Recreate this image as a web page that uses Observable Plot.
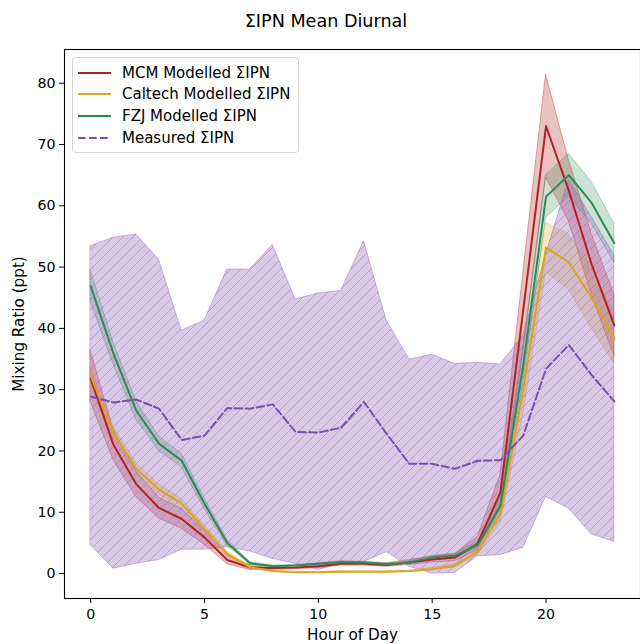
<!DOCTYPE html>
<html>
<head>
<meta charset="utf-8">
<script src="https://cdn.jsdelivr.net/npm/d3@7"></script>
<script src="https://cdn.jsdelivr.net/npm/@observablehq/plot@0.6"></script>
<style>
  body { margin: 0; background: #fff; font-family: "DejaVu Sans", sans-serif; }
  #wrap { position: relative; width: 640px; height: 644px; overflow: hidden; }
  #title { height: 40px; line-height: 42px; text-align: center; font-size: 17.6px; color: #000; padding-left: 12px; }
  #legend { position: absolute; left: 72px; top: 57px; width: 225px; height: 94px; border: 1px solid #d5d5d5; border-radius: 4px; background: rgba(255,255,255,0.85); font-size: 15px; color: #000; }
  .row { position: absolute; left: 0; height: 20px; display: flex; align-items: center; white-space: nowrap; }
  .row svg { margin-left: 5px; margin-right: 11px; }
  #chart svg text { font-size: 14.2px; font-family: "DejaVu Sans", sans-serif; }
  #chart svg g[aria-label$="axis label"] text { font-size: 15.2px; }
</style>
</head>
<body>
<div id="wrap">
  <div id="title">ΣIPN Mean Diurnal</div>
  <div id="chart"></div>
  <div id="legend"></div>
</div>
<script>
// ---- data ----
const hours = [0,1,2,3,4,5,6,7,8,9,10,11,12,13,14,15,16,17,18,19,20,21,22,23];

const mcmMean = [31.8,21.0,14.6,10.7,8.9,5.9,2.2,1.0,0.9,1.0,1.2,1.6,1.6,1.4,1.8,2.3,2.6,4.9,13.3,43.0,73.0,62.5,50.5,40.5];
const mcmLo   = [28.0,18.5,12.5,9.0,7.3,4.7,1.5,0.6,0.6,0.7,0.9,1.3,1.3,1.1,1.4,1.8,2.0,3.8,10.5,36.0,64.6,57.5,45.5,35.5];
const mcmHi   = [36.4,23.5,16.7,12.4,10.5,7.1,2.9,1.4,1.2,1.3,1.5,1.9,1.9,1.7,2.2,2.8,3.2,6.0,16.1,49.0,81.4,67.5,55.5,45.5];

const caltechMean = [32.3,23.0,17.1,13.7,11.4,7.3,3.2,1.0,0.4,0.2,0.2,0.3,0.3,0.3,0.4,0.7,1.3,3.6,9.7,30.0,53.2,50.8,45.0,38.3];
const caltechLo   = [31.1,22.0,16.2,12.9,10.6,6.7,2.8,0.8,0.3,0.1,0.1,0.2,0.2,0.2,0.3,0.5,1.0,3.0,8.2,26.0,49.2,46.3,40.0,34.3];
const caltechHi   = [33.5,24.0,18.0,14.5,12.2,7.9,3.6,1.2,0.5,0.3,0.3,0.4,0.4,0.4,0.5,0.9,1.6,4.2,11.2,34.0,57.2,55.3,50.0,42.3];

const fzjMean = [46.9,35.9,26.6,21.2,18.4,11.4,5.0,1.7,1.2,1.3,1.6,1.9,1.8,1.5,1.8,2.6,2.9,4.7,11.1,34.0,61.5,65.0,60.5,53.9];
const fzjLo   = [44.3,34.1,25.1,20.0,17.3,10.5,4.5,1.5,1.1,1.2,1.5,1.8,1.7,1.4,1.6,2.3,2.6,4.2,9.9,31.0,58.0,61.5,57.1,50.7];
const fzjHi   = [49.5,37.7,28.1,22.4,19.5,12.3,5.5,1.9,1.3,1.4,1.7,2.0,1.9,1.6,2.0,2.9,3.2,5.2,12.3,37.0,65.0,68.5,63.9,57.1];

const measMean = [28.9,27.9,28.4,26.9,21.8,22.5,27.0,26.9,27.6,23.1,23.0,23.8,28.0,22.8,17.9,17.9,17.1,18.4,18.5,22.5,33.4,37.3,32.4,28.1];
const measLo   = [4.6,0.8,1.6,2.2,3.9,3.9,4.3,3.6,2.4,1.6,0.6,1.5,1.9,3.5,1.1,0.0,0.1,2.8,3.0,4.2,12.5,10.6,6.4,5.2];
const measHi   = [53.4,54.8,55.3,51.2,39.6,41.3,49.6,49.6,53.6,44.7,45.7,46.1,54.2,41.3,34.9,35.7,34.2,34.4,34.1,38.8,52.0,64.2,58.2,51.9];

const seriesNames = ["MCM Modelled ΣIPN", "Caltech Modelled ΣIPN", "FZJ Modelled ΣIPN", "Measured ΣIPN"];
const seriesColors = ["#b22222", "#daa520", "#2e8b57", "#7b4fae"];
const xTicks = [0, 5, 10, 15, 20];
const yTicks = [0, 10, 20, 30, 40, 50, 60, 70, 80];

// ---- tables ----
const rows = hours.map((h, i) => ({
  h,
  mcm: mcmMean[i], mcmLo: mcmLo[i], mcmHi: mcmHi[i],
  cal: caltechMean[i], calLo: caltechLo[i], calHi: caltechHi[i],
  fzj: fzjMean[i], fzjLo: fzjLo[i], fzjHi: fzjHi[i],
  meas: measMean[i], measLo: measLo[i], measHi: measHi[i]
}));

const band = (lo, hi, color, op) => Plot.areaY(rows, {x: "h", y1: lo, y2: hi, fill: color, fillOpacity: op, stroke: color, strokeOpacity: op + 0.1, strokeWidth: 1});
const line = (key, color, extra = {}) => Plot.lineY(rows, {x: "h", y: key, stroke: color, strokeWidth: 2, ...extra});

const svg = Plot.plot({
  width: 640,
  height: 604,
  marginLeft: 64,
  marginRight: 0,
  marginTop: 9,
  marginBottom: 46,
  style: {fontFamily: "DejaVu Sans, sans-serif", fontSize: "14.2px", color: "#000", background: "#fff", overflow: "visible"},
  x: {domain: [-1.15, 24.15]},
  y: {domain: [-4.07, 85.5]},
  marks: [
    band("mcmLo", "mcmHi", seriesColors[0], 0.28),
    band("calLo", "calHi", seriesColors[1], 0.25),
    band("fzjLo", "fzjHi", seriesColors[2], 0.25),
    Plot.areaY(rows, {x: "h", y1: "measLo", y2: "measHi", fill: "#9467bd", fillOpacity: 0.35, stroke: "#9467bd", strokeOpacity: 0.45, strokeWidth: 1}),
    Plot.areaY(rows, {x: "h", y1: "measLo", y2: "measHi", fill: "url(#hatch)"}),
    line("mcm", seriesColors[0]),
    line("cal", seriesColors[1]),
    line("fzj", seriesColors[2]),
    line("meas", seriesColors[3], {strokeDasharray: "7.7,3.3"}),
    Plot.frame({stroke: "#000", strokeWidth: 1.1}),
    Plot.axisX({ticks: xTicks, tickSize: 5, tickPadding: 5, label: "Hour of Day", labelAnchor: "center", labelArrow: "none", labelOffset: 41}),
    Plot.axisY({ticks: yTicks, tickSize: 5, tickPadding: 4, label: "Mixing Ratio (ppt)", labelAnchor: "center", labelArrow: "none", labelOffset: 51})
  ]
});

// hatch pattern definition
const ns = "http://www.w3.org/2000/svg";
const defs = document.createElementNS(ns, "defs");
const pat = document.createElementNS(ns, "pattern");
pat.setAttribute("id", "hatch");
pat.setAttribute("patternUnits", "userSpaceOnUse");
pat.setAttribute("width", "10");
pat.setAttribute("height", "10");
const p = document.createElementNS(ns, "path");
p.setAttribute("d", "M-1,1 L1,-1 M0,10 L10,0 M9,11 L11,9");
p.setAttribute("stroke", "#9467bd");
p.setAttribute("stroke-opacity", "0.5");
p.setAttribute("stroke-width", "1");
pat.appendChild(p);
defs.appendChild(pat);
svg.insertBefore(defs, svg.firstChild);

document.getElementById("chart").appendChild(svg);

// legend
const legend = document.getElementById("legend");
const rowTops = [5, 26, 48, 70];
seriesNames.forEach((name, i) => {
  const r = document.createElement("div");
  r.className = "row";
  r.style.top = rowTops[i] + "px";
  const dash = i === 3 ? ' stroke-dasharray="7.7,3.3"' : '';
  r.innerHTML = `<svg width="33" height="4"><line x1="0" y1="2" x2="33" y2="2" stroke="${seriesColors[i]}" stroke-width="2"${dash}/></svg><span>${name}</span>`;
  legend.appendChild(r);
});
</script>
</body>
</html>
